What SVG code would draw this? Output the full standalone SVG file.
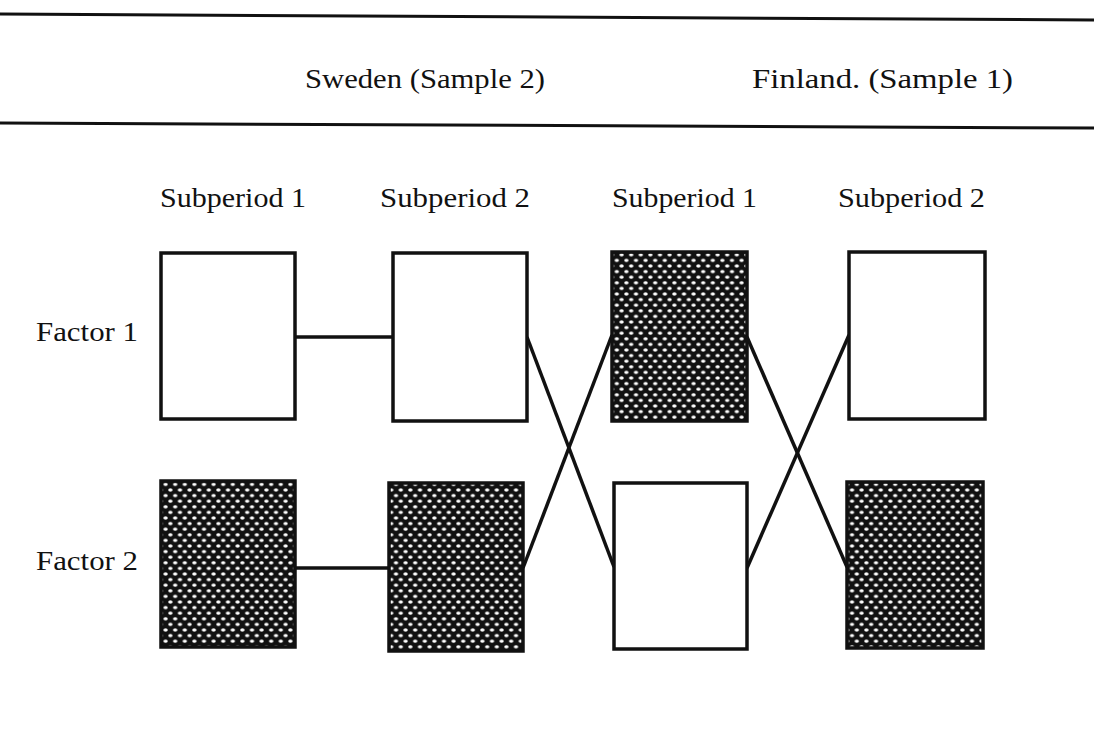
<svg xmlns="http://www.w3.org/2000/svg" width="1094" height="731" viewBox="0 0 1094 731">
<defs>
<pattern id="dots" patternUnits="userSpaceOnUse" width="9.6" height="11.2">
<rect width="9.6" height="11.2" fill="#111"/>
<ellipse cx="2.4" cy="2.8" rx="2.2" ry="1.6" fill="#fff"/>
<ellipse cx="7.2" cy="8.4" rx="2.2" ry="1.6" fill="#fff"/>
</pattern>
</defs>
<style>
text{font-family:"Liberation Serif","Times New Roman",serif;font-size:27px;fill:#111}
.box{stroke:#111;stroke-width:3.5}
.white{fill:#fff}
.shade{fill:url(#dots)}
.conn line{stroke:#111;stroke-width:3.5}
.rule{stroke:#111;stroke-width:3}
</style>
<rect width="1094" height="731" fill="#fff"/>
<line class="rule" x1="0" y1="14" x2="1094" y2="20"/>
<line class="rule" x1="0" y1="123" x2="1094" y2="128"/>
<g id="headers">
<text x="305" y="88" textLength="240" lengthAdjust="spacingAndGlyphs">Sweden (Sample 2)</text>
<text x="752" y="88" textLength="261" lengthAdjust="spacingAndGlyphs">Finland. (Sample 1)</text>
<text x="160" y="207" textLength="146" lengthAdjust="spacingAndGlyphs">Subperiod 1</text>
<text x="380" y="207" textLength="150" lengthAdjust="spacingAndGlyphs">Subperiod 2</text>
<text x="612" y="207" textLength="145" lengthAdjust="spacingAndGlyphs">Subperiod 1</text>
<text x="838" y="207" textLength="147" lengthAdjust="spacingAndGlyphs">Subperiod 2</text>
<text x="36" y="341" textLength="102" lengthAdjust="spacingAndGlyphs">Factor 1</text>
<text x="36" y="570" textLength="102" lengthAdjust="spacingAndGlyphs">Factor 2</text>
</g>
<g class="conn" id="connectors">
<line x1="295" y1="337" x2="393" y2="337"/>
<line x1="295" y1="568" x2="389" y2="568"/>
<line x1="527" y1="337" x2="614" y2="567"/>
<line x1="523" y1="568" x2="612" y2="335"/>
<line x1="747" y1="337" x2="847" y2="567"/>
<line x1="747" y1="568" x2="849" y2="335"/>
</g>
<g id="s1f1"><rect class="box white" x="161" y="253" width="134" height="166"/></g>
<g id="s2f1"><rect class="box white" x="393" y="253" width="134" height="168"/></g>
<g id="f1s1f1"><rect class="box shade" x="612" y="252" width="135" height="169"/></g>
<g id="f1s2f1"><rect class="box white" x="849" y="252" width="136" height="167"/></g>
<g id="s1f2"><rect class="box shade" x="161" y="481" width="134" height="166"/></g>
<g id="s2f2"><rect class="box shade" x="389" y="483" width="134" height="168"/></g>
<g id="f1s1f2"><rect class="box white" x="614" y="483" width="133" height="166"/></g>
<g id="f1s2f2"><rect class="box shade" x="847" y="482" width="136" height="166"/></g>
</svg>
